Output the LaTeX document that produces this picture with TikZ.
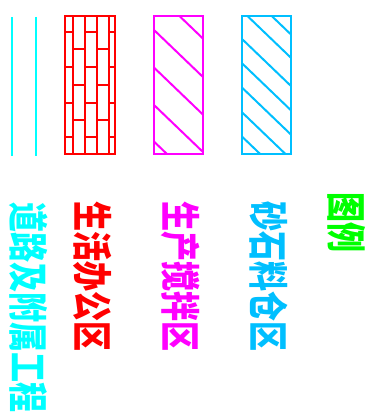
\documentclass[tikz,border=0pt]{standalone}
\usepackage{fontspec}
\newfontfamily\cjk{Noto Sans CJK SC}
\definecolor{roadc}{RGB}{0,255,255}
\definecolor{livec}{RGB}{255,0,0}
\definecolor{prodc}{RGB}{255,0,255}
\definecolor{sandc}{RGB}{0,191,255}
\definecolor{titlec}{RGB}{0,255,0}
\begin{document}
\begin{tikzpicture}[x=1pt,y=-1pt,
  lw/.style={line width=2pt},
  lbl/.style={rotate=-90, anchor=west, inner sep=0pt,
    font=\cjk\bfseries\fontsize{40}{40}\selectfont}]
\useasboundingbox (0,0) rectangle (372,414);

% road: two cyan lines
\draw[lw, roadc] (12,17) -- (12,156);
\draw[lw, roadc] (36,17) -- (36,156);

% living/office: red brick
\draw[lw, livec] (65,16) rectangle (115,154);
\foreach \xx in {73.3,85.3,97,109.3}
  \draw[lw, livec] (\xx,16) -- (\xx,154);
\foreach \yy in {31.7,66.7,102.7,137.3} {
  \draw[lw, livec] (65,\yy) -- (73.3,\yy);
  \draw[lw, livec] (85.3,\yy) -- (97,\yy);
  \draw[lw, livec] (109.3,\yy) -- (115,\yy);
}
\foreach \yy in {49.3,85,120} {
  \draw[lw, livec] (73.3,\yy) -- (85.3,\yy);
  \draw[lw, livec] (97,\yy) -- (109.3,\yy);
}

% production/mixing: magenta hatch
\begin{scope}
  \clip (153.7,16.3) rectangle (203,153.7);
  \foreach \cc in {-8.7,29.7,67.3,104.7,141.3}
    \draw[lw, prodc] (150,{\cc-0.96*3.7}) -- (207,{\cc+0.96*53.3});
\end{scope}
\draw[lw, prodc] (153.7,16.3) rectangle (203,153.7);

% sand/stone storage: blue hatch
\begin{scope}
  \clip (241.7,16.3) rectangle (291,153.7);
  \foreach \cc in {-12.8,10.5,38.7,63,87.3,112,136.3}
    \draw[lw, sandc] (238,{\cc-0.96*3.7}) -- (295,{\cc+0.96*53.3});
\end{scope}
\draw[lw, sandc] (241.7,16.3) rectangle (291,153.7);

% labels
\node[lbl, text=titlec] (tuli) at (346.7,192) {\scalebox{0.75}[1]{图例}};
\node[lbl, text=sandc] (sand) at (268.5,201) {\scalebox{0.75}[1]{砂石料仓区}};
\node[lbl, text=prodc] (prod) at (181,201) {\scalebox{0.75}[1]{生产搅拌区}};
\node[lbl, text=livec] (live) at (92.5,201) {\scalebox{0.75}[1]{生活办公区}};
\node[lbl, text=roadc] (road) at (28.5,202) {\scalebox{0.75}[1]{道路及附属工程}};
\end{tikzpicture}
\end{document}
